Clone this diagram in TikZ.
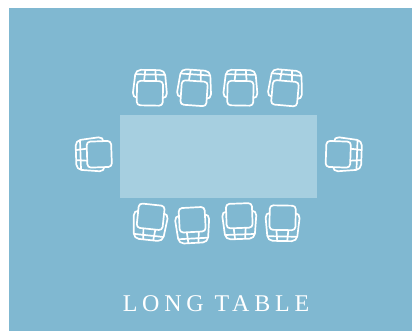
\documentclass[tikz,border=0pt]{standalone}
\usepackage{fontspec}
\setmainfont{Liberation Serif}
\newfontfamily\titlefont[LetterSpace=20]{Liberation Serif}
\definecolor{room}{HTML}{80B8D1}
\definecolor{tabletop}{HTML}{A6CFE0}
\begin{document}
\begin{tikzpicture}[
  x=1pt,y=-1pt,
  zone/.style={inner sep=0pt,outer sep=0pt,anchor=north west},
  chairline/.style={draw=white,line width=1.7pt,line join=round},
  chair/.pic={
    \draw[chairline,rounded corners=5pt] (-14.5,-17) -- (14.5,-17) -- (17.5,11) -- (-17.5,11) -- cycle;
    \draw[chairline] (-15,-12.5) -- (15,-12.5);
    \draw[chairline] (-5,-17) -- (-6,-6);
    \draw[chairline] (5,-17) -- (6,-6);
    \draw[chairline,fill=room,rounded corners=3.5pt] (-13,-6) rectangle (13,18.5);
  }]
\useasboundingbox (0,0) rectangle (412,331);
\node[zone,fill=room,minimum width=403pt,minimum height=323pt] (panel) at (9,8) {};
\node[zone,fill=tabletop,minimum width=197pt,minimum height=83pt] (longtable) at (120,115) {};
% top row, then bottom row
\foreach \px/\ang in {150/-1,194.5/-4,240.5/-1,285.5/-5}
  \pic at (\px,87) [rotate=\ang] {chair};
\foreach \px/\py/\ang in {150/223/174,192.5/226/183,239.5/222/182,282.5/224/179}
  \pic at (\px,\py) [rotate=\ang] {chair};
% the two ends
\pic at (93,154.5) [rotate=92] {chair};
\pic at (344.5,154.5) [rotate=-92] {chair};
\node[text=white,font=\titlefont\fontsize{24}{26}\selectfont] (title) at (216,304) {LONG TABLE};
\end{tikzpicture}
\end{document}
